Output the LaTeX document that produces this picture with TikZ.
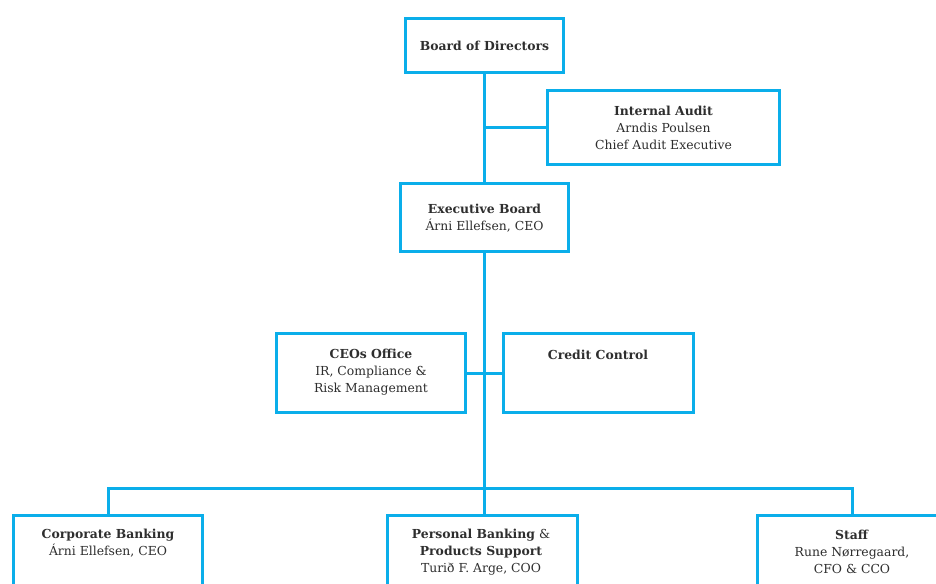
\documentclass[tikz,border=0pt]{standalone}
\usepackage{fontspec}
\setmainfont{DejaVu Serif}
\definecolor{cy}{HTML}{0AAEEA}
\definecolor{tx}{HTML}{2E2E2E}
\begin{document}
\begin{tikzpicture}[x=1pt,y=-1pt,
  box/.style={draw=cy,line width=3pt,inner sep=0pt,fill=none},
  con/.style={draw=cy,line width=3pt},
  lbl/.style={text=tx,align=center,inner sep=0pt,font=\fontsize{12.4}{17}\selectfont}]
\useasboundingbox (0,0) rectangle (936,583);
\clip (0,0) rectangle (936,583);
\fill[white] (0,0) rectangle (936,583);
% boxes
\node[box,minimum width=158pt,minimum height=54pt] (bod) at (484.5,45.5) {};
\node[box,minimum width=232pt,minimum height=74pt] (ia) at (663.5,127.5) {};
\node[box,minimum width=168pt,minimum height=68pt] (eb) at (484.5,217.5) {};
\node[box,minimum width=189pt,minimum height=79pt] (ceo) at (371,373) {};
\node[box,minimum width=190pt,minimum height=79pt] (cc) at (598,373) {};
\node[box,minimum width=189pt,minimum height=120pt] (cb) at (108,575.5) {};
\node[box,minimum width=190pt,minimum height=120pt] (pb) at (482,575.5) {};
\node[box,minimum width=189pt,minimum height=120pt] (st) at (852,575.5) {};
\coordinate (bus) at (484.5,488);
% connectors
\draw[con] (bod.south) -- (eb.north);
\draw[con] (bod.south |- ia.west) -- (ia.west);
\draw[con] (eb.south) -- (bus);
\draw[con] (ceo.east) -- (cc.west);
\draw[con] (cb.north) |- (bus) -| (st.north);
\draw[con] (bus) -- (bus |- pb.north);
% texts
\node[lbl] (bodT) at (484.5,46) {\textbf{Board of Directors}};
\node[lbl] (iaT) at (663.5,128) {\textbf{Internal Audit}\\Arndis Poulsen\\Chief Audit Executive};
\node[lbl] (ebT) at (484.5,218.5) {\textbf{Executive Board}\\Árni Ellefsen, CEO};
\node[lbl] (ceoT) at (371,372) {\textbf{CEOs Office}\\IR, Compliance \&\\Risk Management};
\node[lbl] (ccT) at (598,355) {\textbf{Credit Control}};
\node[lbl] (cbT) at (108,543.5) {\textbf{Corporate Banking}\\Árni Ellefsen, CEO};
\node[lbl] (pbT) at (481,552) {\textbf{Personal Banking} \&\\\textbf{Products Support}\\Turið F. Arge, COO};
\node[lbl] (stT) at (852,552) {\textbf{Staff}\\Rune Nørregaard,\\CFO \& CCO};
\end{tikzpicture}
\end{document}
